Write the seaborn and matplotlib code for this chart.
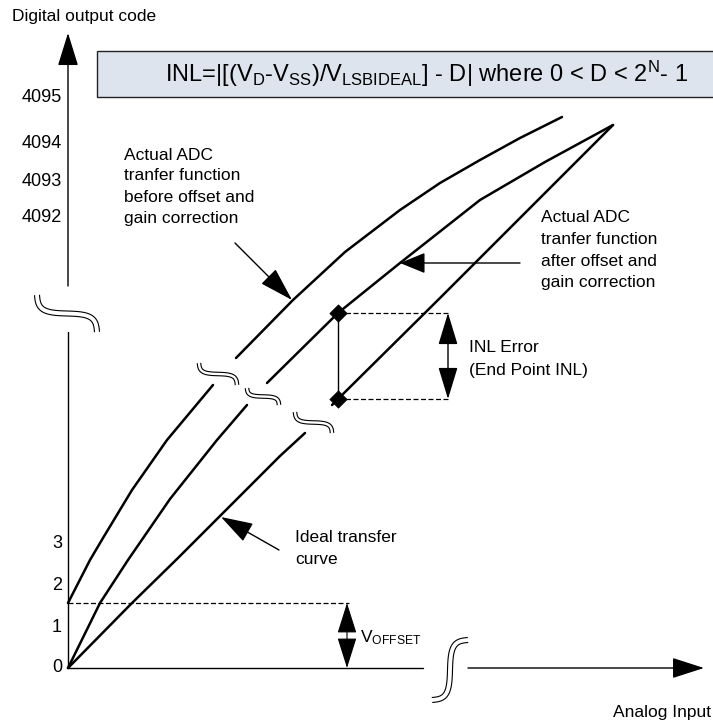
import numpy as np
import matplotlib
matplotlib.use("Agg")
import matplotlib.pyplot as plt
from matplotlib.patches import Rectangle
import seaborn as sns

sns.set_theme(style="white")
plt.rcParams["font.family"] = ["Liberation Sans", "DejaVu Sans"]
plt.rcParams["mathtext.fontset"] = "custom"
plt.rcParams["mathtext.rm"] = "Liberation Sans"
plt.rcParams["mathtext.it"] = "Liberation Sans:italic"
plt.rcParams["mathtext.bf"] = "Liberation Sans:bold"

# ---- data (pixel space of the 713x721 canvas) ----
# actual ADC transfer function before offset and gain correction
before_lo_x = [68, 90, 103, 132, 167, 213]
before_lo_y = [603, 560, 538, 490, 440, 385]
before_hi_x = [236, 293, 345, 400, 440, 480, 520, 562]
before_hi_y = [358, 300, 252, 210, 183, 160, 138, 117]

# actual ADC transfer function after offset and gain correction
after_lo_x = [68, 100, 128, 170, 217, 247]
after_lo_y = [668, 603, 560, 499, 440, 405]
after_hi_x = [267, 338, 400, 480, 545, 613]
after_hi_y = [383, 313, 263, 200, 162, 125]

# ideal transfer curve
ideal_lo_x = [68, 132, 178, 221, 280, 305]
ideal_lo_y = [668, 603, 558, 515, 456, 433]
ideal_hi_x = [332, 338, 440, 613]
ideal_hi_y = [405, 399, 298, 125]

# end point INL markers
inl_x = [338, 338]
inl_y = [313, 399]

y_ticks = ["0", "1", "2", "3", "4092", "4093", "4094", "4095"]
y_tick_pos = [668, 627, 585, 543, 218, 181, 143, 97]

# ---- figure ----
fig = plt.figure(figsize=(7.13, 7.21), dpi=100)
ax = fig.add_axes([0, 0, 1, 1])
ax.set_xlim(0, 713)
ax.set_ylim(721, 0)
ax.axis("off")

K = "black"
FS = 12.5


def arrow(tail, tip, hl, hw, style="-|>", lw=1.0):
    s = f"{style},head_length={hl * 0.072:.3f},head_width={hw * 0.072:.3f}"
    ax.annotate("", xy=tip, xytext=tail, xycoords="data",
                arrowprops=dict(arrowstyle=s, mutation_scale=10, lw=lw,
                                color=K, shrinkA=0, shrinkB=0))


def squiggle(p0, p1, main="x", gap=4.5, lw=0.8):
    t = np.linspace(0, 1, 80)
    c = 0.9
    a = t - c * np.sin(2 * np.pi * t) / (2 * np.pi)   # main direction
    b = t + c * np.sin(2 * np.pi * t) / (2 * np.pi)   # cross direction
    if main == "x":
        x = p0[0] + (p1[0] - p0[0]) * a
        y = p0[1] + (p1[1] - p0[1]) * b
    else:
        y = p0[1] + (p1[1] - p0[1]) * a
        x = p0[0] + (p1[0] - p0[0]) * b
    dx, dy = np.gradient(x), np.gradient(y)
    n = np.hypot(dx, dy)
    nx, ny = -dy / n, dx / n
    for s in (-0.5, 0.5):
        ax.plot(x + s * gap * nx, y + s * gap * ny, color=K, lw=lw,
                solid_capstyle="butt")


# curves
for xs, ys in [(before_lo_x, before_lo_y), (before_hi_x, before_hi_y),
               (after_lo_x, after_lo_y), (after_hi_x, after_hi_y),
               (ideal_lo_x, ideal_lo_y), (ideal_hi_x, ideal_hi_y)]:
    sns.lineplot(x=xs, y=ys, sort=False, estimator=None, color=K, lw=1.8,
                 solid_joinstyle="round", ax=ax)

# breaks on the curves
squiggle((199, 363), (237, 385), gap=3.5)
squiggle((247, 388), (279, 405), gap=3.5)
squiggle((295, 412), (332, 433), gap=3.5)

# axes
ax.plot([68, 68], [668, 332], color=K, lw=1.0)
arrow((68, 286), (68, 33), 29, 9)
squiggle((37, 295), (97, 332), gap=5)
ax.plot([68, 423], [668, 668], color=K, lw=1.0)
arrow((468, 668), (704, 668), 28, 9)
squiggle((468, 640), (432, 700), main="y", gap=5)

# offset
ax.plot([68, 349], [603, 603], color=K, lw=0.9, ls=(0, (4, 2)))
arrow((347, 603), (347, 668), 27, 8.5, style="<|-|>", lw=0.8)

# INL error construction
ax.plot([338, 448], [313, 313], color=K, lw=0.9, ls=(0, (4, 2)))
ax.plot([338, 448], [399, 399], color=K, lw=0.9, ls=(0, (4, 2)))
ax.plot([338, 338], [313, 399], color=K, lw=1.0)
arrow((448, 313), (448, 399), 28, 8.5, style="<|-|>", lw=1.0)
sns.scatterplot(x=inl_x, y=inl_y, marker="D", s=75, color=K, edgecolor=K,
                zorder=5, ax=ax)

# pointers
arrow((235, 243), (292, 300), 30, 9)
arrow((520, 263), (400, 263), 22, 9)
arrow((279, 550), (221, 517), 28, 9)

# formula box
ax.add_patch(Rectangle((97, 51), 640, 46, facecolor="#dde4ee",
                       edgecolor="#222222", lw=1.0))
ax.text(165, 74,
        r"INL=|[(V$_{\mathrm{D}}$-V$_{\mathrm{SS}}$)/V$_{\mathrm{LSBIDEAL}}$] - D| "
        r"where 0 < D < 2$^{\mathrm{N}}$- 1",
        fontsize=17, va="center", ha="left", color=K)

# texts
ax.text(12, 17, "Digital output code", fontsize=FS, va="center", color=K)
ax.text(613, 712, "Analog Input", fontsize=FS, va="center", color=K)
for lab, yp in zip(y_ticks, y_tick_pos):
    ax.text(62, yp, lab, fontsize=13, va="center", ha="right", color=K)

for i, line in enumerate(["Actual ADC", "tranfer function",
                          "before offset and", "gain correction"]):
    ax.text(124, [155, 176, 197, 218][i], line, fontsize=FS, va="center", color=K)
for i, line in enumerate(["Actual ADC", "tranfer function",
                          "after offset and", "gain correction"]):
    ax.text(541, [217, 240, 262, 283][i], line, fontsize=FS, va="center", color=K)
ax.text(469, 347, "INL Error", fontsize=FS, va="center", color=K)
ax.text(469, 370, "(End Point INL)", fontsize=FS, va="center", color=K)
ax.text(295, 538, "Ideal transfer", fontsize=FS, va="center", color=K)
ax.text(295, 559, "curve", fontsize=FS, va="center", color=K)
ax.text(360, 638, r"V$_{\mathrm{OFFSET}}$", fontsize=FS, va="center", color=K)

fig.savefig("out.png", dpi=100)
